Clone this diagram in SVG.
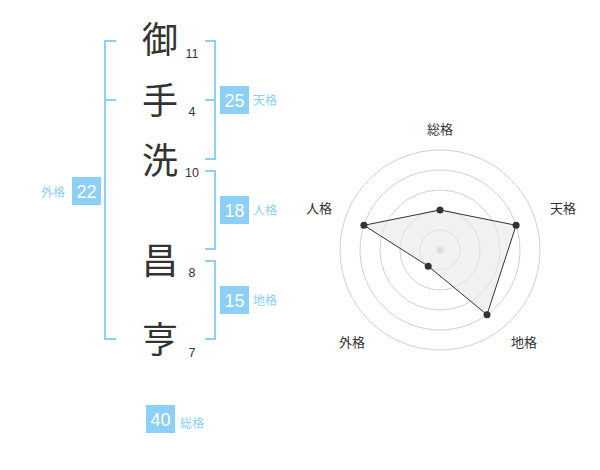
<svg xmlns="http://www.w3.org/2000/svg" width="600" height="470" viewBox="0 0 600 470">
<style>
.ch{font-family:"Noto Sans CJK JP","Noto Sans CJK SC",sans-serif;font-size:36px;fill:#333;text-anchor:middle}
.num{font-family:"Liberation Sans",Arial,sans-serif;font-size:12.5px;fill:#333;text-anchor:middle}
.br{fill:none;stroke:#8ccff7;stroke-width:2}
.box{fill:#8ccff7}
.bn{font-family:"Liberation Sans",Arial,sans-serif;font-size:18px;fill:#fff;text-anchor:middle}
.lb{font-family:"Liberation Sans","Noto Sans CJK JP",sans-serif;font-size:12px;fill:#8ccff7}
.ring{fill:none;stroke:#d0d0d0;stroke-width:1}
.rl{font-family:"Liberation Sans","Noto Sans CJK JP",sans-serif;font-size:13px;fill:#333;text-anchor:middle}
.dot{fill:#333}
</style>
<rect width="600" height="470" fill="#fff"/>
<g id="connectors">
<path class="br" d="M116,41 H105 V339 H116 M105,100 H116"/>
<path class="br" d="M205,41 H215 V159 H205 M205,100 H215"/>
<path class="br" d="M205,171 H215 V249 H205"/>
<path class="br" d="M205,261 H215 V339 H205"/>
</g>
<g id="char1"><text class="ch" x="160" y="53">御</text><text class="num" x="192" y="58">11</text></g>
<g id="char2"><text class="ch" x="160" y="114">手</text><text class="num" x="192" y="116">4</text></g>
<g id="char3"><text class="ch" x="160" y="174">洗</text><text class="num" x="192" y="177">10</text></g>
<g id="char4"><text class="ch" x="160" y="274">昌</text><text class="num" x="192" y="277">8</text></g>
<g id="char5"><text class="ch" x="160" y="353">亨</text><text class="num" x="192" y="357">7</text></g>
<g id="tenkaku"><rect class="box" x="220" y="86" width="29" height="28"/><text class="bn" x="234.5" y="107">25</text><text class="lb" x="253" y="105">天格</text></g>
<g id="jinkaku"><rect class="box" x="220" y="196" width="29" height="28"/><text class="bn" x="234.5" y="217">18</text><text class="lb" x="253" y="215">人格</text></g>
<g id="chikaku"><rect class="box" x="220" y="286" width="29" height="28"/><text class="bn" x="234.5" y="307">15</text><text class="lb" x="253" y="305">地格</text></g>
<g id="gaikaku"><rect class="box" x="72" y="177" width="29" height="28"/><text class="bn" x="86.5" y="198">22</text><text class="lb" x="41" y="197">外格</text></g>
<g id="soukaku"><rect class="box" x="146" y="405" width="29" height="28"/><text class="bn" x="160.5" y="426">40</text><text class="lb" x="180" y="428">総格</text></g>
<g id="radar">
<circle class="ring" cx="440" cy="250" r="20"/>
<circle class="ring" cx="440" cy="250" r="40"/>
<circle class="ring" cx="440" cy="250" r="60"/>
<circle class="ring" cx="440" cy="250" r="80"/>
<circle class="ring" cx="440" cy="250" r="100"/>
<circle cx="440" cy="250" r="3.5" fill="#ccc"/>
<polygon points="440,210 516.1,225.3 487,314.7 428.2,266.2 363.9,225.3" fill="#e8e8e8" fill-opacity="0.6" stroke="#333" stroke-width="1"/>
<circle class="dot" cx="440" cy="210" r="3.5"/>
<circle class="dot" cx="516.1" cy="225.3" r="3.5"/>
<circle class="dot" cx="487" cy="314.7" r="3.5"/>
<circle class="dot" cx="428.2" cy="266.2" r="3.5"/>
<circle class="dot" cx="363.9" cy="225.3" r="3.5"/>
<text class="rl" x="440" y="134">総格</text>
<text class="rl" x="563" y="213">天格</text>
<text class="rl" x="524" y="347">地格</text>
<text class="rl" x="352" y="347">外格</text>
<text class="rl" x="319" y="213">人格</text>
</g>
</svg>
